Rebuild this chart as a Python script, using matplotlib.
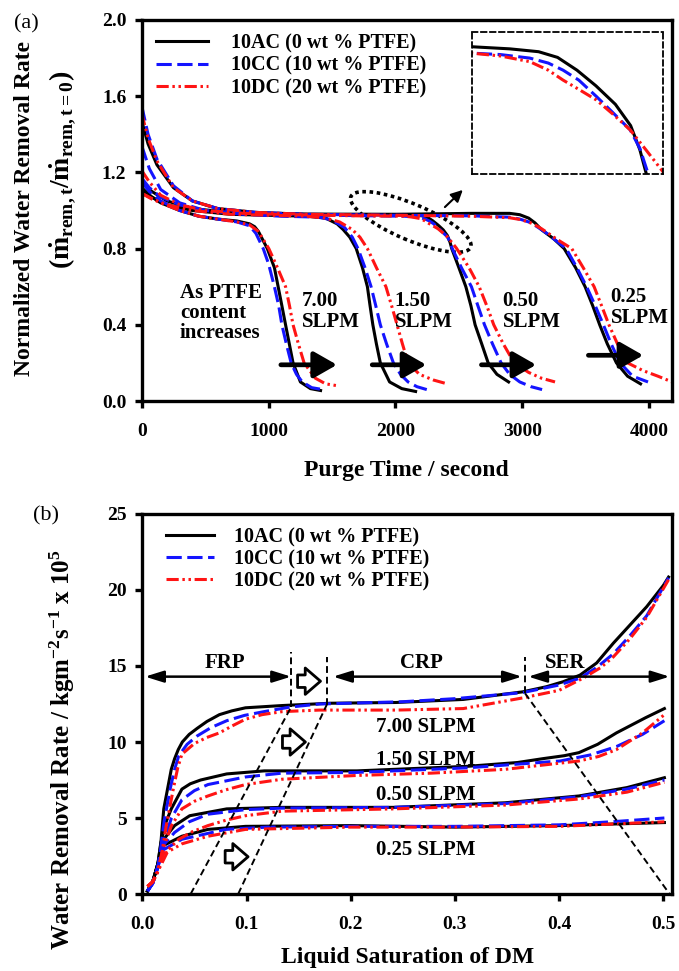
import matplotlib
matplotlib.use('Agg')
import matplotlib.pyplot as plt
from matplotlib.patches import Ellipse
from matplotlib.transforms import ScaledTranslation

# ---------------- data: panel (a)  purge time [s] vs normalized rate ----------------
materials = ['10AC (0 wt % PTFE)', '10CC (10 wt % PTFE)', '10DC (20 wt % PTFE)']
flow_labels = ['7.00', '1.50', '0.50', '0.25']

a700_AC_t = [0, 60, 150, 300, 450, 600, 750, 850, 890, 920, 990, 1046, 1105, 1134, 1193, 1251, 1330, 1410]
a700_AC_v = [1.11, 1.08, 1.04, 1.0, 0.97, 0.955, 0.945, 0.93, 0.915, 0.89, 0.8, 0.7, 0.5, 0.4, 0.2, 0.1, 0.065, 0.055]
a700_CC_t = [0, 60, 150, 300, 450, 600, 750, 850, 900, 958, 1000, 1046, 1080, 1105, 1140, 1178, 1220, 1266, 1340, 1427]
a700_CC_v = [1.15, 1.1, 1.05, 1.0, 0.97, 0.955, 0.94, 0.92, 0.88, 0.8, 0.72, 0.6, 0.5, 0.4, 0.3, 0.2, 0.14, 0.1, 0.07, 0.06]
a700_DC_t = [0, 60, 150, 300, 450, 600, 750, 850, 920, 1002, 1070, 1134, 1165, 1193, 1235, 1280, 1368, 1450, 1544]
a700_DC_v = [1.09, 1.07, 1.04, 1.0, 0.97, 0.955, 0.94, 0.925, 0.89, 0.8, 0.7, 0.6, 0.5, 0.4, 0.3, 0.2, 0.12, 0.09, 0.08]

a150_AC_t = [0, 80, 200, 400, 700, 1000, 1300, 1450, 1540, 1588, 1640, 1691, 1740, 1779, 1800, 1822, 1850, 1881, 1954, 2050, 2159]
a150_AC_v = [1.12, 1.07, 1.03, 1.0, 0.98, 0.975, 0.97, 0.96, 0.93, 0.9, 0.86, 0.8, 0.7, 0.6, 0.5, 0.4, 0.3, 0.2, 0.1, 0.065, 0.05]
a150_CC_t = [0, 60, 150, 300, 500, 800, 1100, 1400, 1500, 1600, 1660, 1705, 1760, 1808, 1845, 1881, 1930, 1984, 2040, 2100, 2170, 2247]
a150_CC_v = [1.34, 1.22, 1.11, 1.04, 1.0, 0.98, 0.97, 0.965, 0.95, 0.91, 0.86, 0.8, 0.7, 0.6, 0.5, 0.4, 0.3, 0.2, 0.14, 0.1, 0.075, 0.06]
a150_DC_t = [0, 80, 200, 400, 700, 1000, 1300, 1450, 1560, 1660, 1720, 1779, 1850, 1925, 1970, 2013, 2055, 2100, 2189, 2300, 2408]
a150_DC_v = [1.09, 1.06, 1.03, 1.0, 0.98, 0.975, 0.97, 0.96, 0.94, 0.9, 0.86, 0.8, 0.7, 0.6, 0.5, 0.4, 0.3, 0.2, 0.14, 0.11, 0.09]

a050_AC_t = [0, 80, 200, 400, 700, 1000, 1500, 2066, 2149, 2211, 2252, 2294, 2335, 2377, 2410, 2430, 2444, 2500, 2555, 2595, 2628, 2680, 2731, 2800, 2892]
a050_AC_v = [1.15, 1.1, 1.05, 1.01, 0.99, 0.982, 0.98, 0.979, 0.976, 0.972, 0.964, 0.946, 0.924, 0.898, 0.868, 0.834, 0.8, 0.7, 0.6, 0.5, 0.4, 0.3, 0.2, 0.14, 0.1]
a050_CC_t = [0, 60, 150, 300, 500, 800, 1200, 1700, 2066, 2128, 2192, 2232, 2264, 2298, 2336, 2372, 2409, 2430, 2448, 2520, 2599, 2650, 2702, 2765, 2833, 2900, 2980, 3070, 3156]
a050_CC_v = [1.17, 1.12, 1.07, 1.03, 1.0, 0.985, 0.978, 0.973, 0.970, 0.968, 0.963, 0.956, 0.946, 0.932, 0.909, 0.886, 0.862, 0.836, 0.8, 0.7, 0.6, 0.5, 0.4, 0.3, 0.2, 0.14, 0.1, 0.075, 0.06]
a050_DC_t = [0, 60, 150, 300, 500, 800, 1200, 1700, 2066, 2128, 2192, 2232, 2264, 2298, 2336, 2372, 2409, 2443, 2480, 2580, 2660, 2720, 2775, 2850, 2936, 3050, 3150, 3258]
a050_DC_v = [1.21, 1.15, 1.08, 1.03, 1.0, 0.985, 0.978, 0.972, 0.970, 0.966, 0.958, 0.946, 0.932, 0.919, 0.904, 0.884, 0.862, 0.834, 0.803, 0.7, 0.6, 0.5, 0.4, 0.3, 0.2, 0.15, 0.12, 0.1]

a025_AC_t = [0, 50, 120, 250, 400, 600, 900, 1300, 2000, 2600, 2900, 2980, 3050, 3100, 3150, 3200, 3250, 3330, 3420, 3495, 3555, 3610, 3670, 3742, 3830, 3932]
a025_AC_v = [1.47, 1.35, 1.24, 1.12, 1.05, 1.01, 0.99, 0.98, 0.98, 0.985, 0.985, 0.978, 0.96, 0.935, 0.9, 0.875, 0.85, 0.8, 0.7, 0.6, 0.5, 0.4, 0.3, 0.2, 0.13, 0.09]
a025_CC_t = [0, 50, 120, 250, 400, 600, 900, 1300, 2000, 2600, 2900, 2980, 3050, 3100, 3150, 3200, 3250, 3346, 3430, 3507, 3575, 3639, 3700, 3771, 3870, 3991]
a025_CC_v = [1.55, 1.4, 1.27, 1.13, 1.05, 1.01, 0.99, 0.98, 0.975, 0.972, 0.965, 0.955, 0.94, 0.922, 0.9, 0.877, 0.85, 0.8, 0.7, 0.6, 0.5, 0.4, 0.3, 0.2, 0.13, 0.1]
a025_DC_t = [0, 50, 120, 250, 400, 600, 900, 1300, 2000, 2600, 2900, 2980, 3050, 3100, 3150, 3210, 3270, 3390, 3480, 3566, 3625, 3683, 3750, 3830, 3950, 4070, 4181]
a025_DC_v = [1.51, 1.38, 1.26, 1.12, 1.05, 1.01, 0.99, 0.98, 0.975, 0.97, 0.962, 0.953, 0.94, 0.924, 0.905, 0.878, 0.85, 0.8, 0.7, 0.6, 0.5, 0.4, 0.3, 0.2, 0.16, 0.13, 0.1]

# ---------------- data: panel (b)  liquid saturation vs water removal rate ----------------
b700_AC_s = [0.005, 0.01, 0.015, 0.018, 0.0206, 0.0278, 0.031, 0.0345, 0.0384, 0.045, 0.0527, 0.062, 0.074, 0.086, 0.099, 0.1345, 0.18, 0.2436, 0.308, 0.365, 0.388, 0.404, 0.42, 0.436, 0.452, 0.468, 0.484, 0.50, 0.505]
b700_AC_w = [0.2, 0.8, 2.0, 3.5, 5.6, 8.2, 8.9, 9.5, 10.0, 10.5, 10.9, 11.35, 11.8, 12.05, 12.25, 12.4, 12.55, 12.6, 12.8, 13.3, 13.64, 13.97, 14.4, 15.2, 16.5, 17.7, 18.9, 20.3, 20.85]
b700_CC_s = [0.005, 0.01, 0.015, 0.018, 0.021, 0.027, 0.031, 0.035, 0.043, 0.0527, 0.066, 0.081, 0.098, 0.117, 0.142, 0.17, 0.25, 0.3, 0.365, 0.4, 0.42, 0.436, 0.452, 0.468, 0.484, 0.505]
b700_CC_w = [0.2, 0.7, 1.8, 3.2, 4.8, 7.0, 8.2, 9.1, 9.85, 10.4, 10.95, 11.4, 11.75, 12.0, 12.3, 12.5, 12.65, 12.85, 13.25, 13.75, 14.2, 14.9, 15.8, 17.0, 18.3, 20.8]
b700_DC_s = [0.005, 0.01, 0.015, 0.019, 0.023, 0.03, 0.034, 0.038, 0.05, 0.062, 0.074, 0.086, 0.099, 0.115, 0.1345, 0.17, 0.2436, 0.308, 0.365, 0.4, 0.423, 0.44, 0.452, 0.468, 0.484, 0.506]
b700_DC_w = [0.5, 0.8, 1.5, 2.8, 4.5, 7.0, 8.3, 9.2, 9.9, 10.3, 10.6, 11.05, 11.5, 11.8, 12.0, 12.1, 12.1, 12.2, 12.9, 13.4, 14.2, 14.9, 15.6, 16.8, 18.2, 20.8]

b150_AC_s = [0.005, 0.01, 0.015, 0.018, 0.022, 0.0278, 0.038, 0.046, 0.056, 0.081, 0.117, 0.206, 0.312, 0.36, 0.384, 0.405, 0.419, 0.437, 0.455, 0.483, 0.501]
b150_AC_w = [0.2, 0.8, 2.0, 3.4, 4.6, 5.6, 6.9, 7.25, 7.5, 7.9, 8.1, 8.1, 8.4, 8.65, 8.9, 9.1, 9.3, 9.85, 10.6, 11.6, 12.2]
b150_CC_s = [0.005, 0.01, 0.015, 0.02, 0.028, 0.038, 0.05, 0.063, 0.099, 0.134, 0.206, 0.312, 0.401, 0.43, 0.455, 0.48, 0.501]
b150_CC_w = [0.2, 0.7, 1.8, 3.4, 5.0, 6.2, 6.8, 7.2, 7.7, 7.95, 8.0, 8.3, 8.75, 9.15, 9.7, 10.5, 11.4]
b150_DC_s = [0.005, 0.01, 0.015, 0.02, 0.028, 0.038, 0.05, 0.063, 0.08, 0.099, 0.134, 0.206, 0.277, 0.348, 0.419, 0.438, 0.455, 0.48, 0.501]
b150_DC_w = [0.5, 0.8, 1.5, 3.0, 4.5, 5.6, 6.1, 6.45, 6.85, 7.2, 7.55, 7.8, 7.95, 8.2, 8.75, 9.05, 9.5, 10.6, 11.8]

b050_AC_s = [0.005, 0.01, 0.015, 0.0206, 0.031, 0.0455, 0.081, 0.134, 0.241, 0.348, 0.419, 0.465, 0.501]
b050_AC_w = [0.2, 0.8, 2.0, 3.6, 4.5, 5.15, 5.6, 5.7, 5.7, 6.0, 6.45, 7.0, 7.65]
b050_CC_s = [0.005, 0.01, 0.015, 0.02, 0.031, 0.045, 0.063, 0.099, 0.134, 0.241, 0.348, 0.419, 0.465, 0.501]
b050_CC_w = [0.2, 0.7, 1.8, 3.2, 4.05, 4.75, 5.25, 5.55, 5.65, 5.7, 5.95, 6.4, 6.9, 7.5]
b050_DC_s = [0.005, 0.01, 0.015, 0.02, 0.035, 0.048, 0.063, 0.08, 0.099, 0.134, 0.241, 0.348, 0.419, 0.465, 0.501]
b050_DC_w = [0.5, 0.8, 1.5, 2.6, 3.6, 4.1, 4.5, 4.85, 5.15, 5.45, 5.6, 5.85, 6.25, 6.7, 7.35]

b025_AC_s = [0.005, 0.01, 0.015, 0.0206, 0.038, 0.063, 0.099, 0.2, 0.3, 0.4, 0.45, 0.501]
b025_AC_w = [0.2, 0.8, 2.0, 3.2, 3.8, 4.25, 4.45, 4.5, 4.4, 4.5, 4.6, 4.7]
b025_CC_s = [0.005, 0.01, 0.015, 0.02, 0.038, 0.08, 0.12, 0.2, 0.3, 0.4, 0.45, 0.501]
b025_CC_w = [0.2, 0.7, 1.8, 2.9, 3.6, 4.25, 4.4, 4.45, 4.45, 4.55, 4.75, 5.0]
b025_DC_s = [0.005, 0.01, 0.015, 0.024, 0.038, 0.063, 0.099, 0.2, 0.3, 0.4, 0.45, 0.501]
b025_DC_w = [0.5, 0.8, 1.5, 2.75, 3.3, 3.8, 4.25, 4.4, 4.4, 4.45, 4.6, 4.75]

# region markers in panel (b)
frp_end = 0.1428
crp_start = 0.177
crp_end = 0.3673

# ---------------- styling ----------------
plt.rcParams['font.family'] = ['Liberation Serif', 'DejaVu Serif']
plt.rcParams['font.weight'] = 'bold'
plt.rcParams['axes.labelweight'] = 'bold'
plt.rcParams['mathtext.fontset'] = 'custom'
plt.rcParams['mathtext.rm'] = 'Liberation Serif:bold'
plt.rcParams['mathtext.it'] = 'Liberation Serif:bold'
plt.rcParams['mathtext.bf'] = 'Liberation Serif:bold'

LW = 2.2
styles = [dict(color='black', lw=LW, ls='-'),
          dict(color='#1414ff', lw=LW, dashes=(5, 1.8)),
          dict(color='#ff1414', lw=LW, dashes=(4, 1.2, 0.8, 1.2, 0.8, 1.2))]

fig = plt.figure(figsize=(6.79, 9.71), dpi=100)
W, H = 679.0, 971.0
axA = fig.add_axes([141.7 / W, 1 - 401 / H, (672 - 141.7) / W, 381 / H])
axB = fig.add_axes([142.3 / W, 1 - 894 / H, (672 - 142.3) / W, 380 / H])

for ax in (axA, axB):
    for sp in ax.spines.values():
        sp.set_linewidth(2.4)
    ax.tick_params(direction='out', length=5, width=2.4, labelsize=14)
    ax.tick_params(axis='x', pad=11)
    ax.tick_params(axis='y', pad=6)

# ---------------- panel (a) ----------------
a_curves = [
    [(a700_AC_t, a700_AC_v), (a700_CC_t, a700_CC_v), (a700_DC_t, a700_DC_v)],
    [(a150_AC_t, a150_AC_v), (a150_CC_t, a150_CC_v), (a150_DC_t, a150_DC_v)],
    [(a050_AC_t, a050_AC_v), (a050_CC_t, a050_CC_v), (a050_DC_t, a050_DC_v)],
    [(a025_AC_t, a025_AC_v), (a025_CC_t, a025_CC_v), (a025_DC_t, a025_DC_v)],
]
for k in range(3):
    for fi, grp in enumerate(a_curves):
        t, v = grp[k]
        axA.plot(t, v, label=materials[k] if fi == 0 else None, **styles[k])

axA.set_xlim(0, 4180)
axA.set_ylim(0, 2.0)
axA.set_xticks([0, 1000, 2000, 3000, 4000])
axA.set_yticks([0.0, 0.4, 0.8, 1.2, 1.6, 2.0])
axA.set_yticklabels(['0.0', '0.4', '0.8', '1.2', '1.6', '2.0'])
axA.set_xlabel('Purge Time / second', fontsize=17, labelpad=14)

legA = axA.legend(loc='upper left', bbox_to_anchor=(0.027, 0.965), frameon=False, fontsize=14.5,
                  handlelength=2.6, handletextpad=1.1, labelspacing=0.12, borderpad=0, borderaxespad=0)

# flow-rate labels
axA.text(1262, 0.47, '7.00\nSLPM', fontsize=15, ha='left', va='center', linespacing=1.05)
axA.text(1994, 0.47, '1.50\nSLPM', fontsize=15, ha='left', va='center', linespacing=1.05)
axA.text(2845, 0.47, '0.50\nSLPM', fontsize=15, ha='left', va='center', linespacing=1.05)
axA.text(3695, 0.49, '0.25\nSLPM', fontsize=15, ha='left', va='center', linespacing=1.05)
axA.text(300, 0.46, 'As PTFE\ncontent\nincreases', fontsize=15, ha='left', va='center', linespacing=1.0)

for (x0, x1, yy) in [(1097, 1539, 0.19), (1817, 2243, 0.19), (2678, 3109, 0.19), (3521, 3953, 0.24)]:
    axA.annotate('', xy=(x1, yy), xytext=(x0, yy),
                 arrowprops=dict(arrowstyle='-|>,head_length=0.7,head_width=0.4', lw=3.4, color='black',
                                 mutation_scale=20, shrinkA=0, shrinkB=0))

# dotted ellipse highlighting region
ell_trans = fig.dpi_scale_trans + ScaledTranslation(2121, 0.94, axA.transData)
axA.add_patch(Ellipse((0, 0), width=1.30, height=0.36, angle=-23, transform=ell_trans,
                      fill=False, ec='black', lw=2.6, ls=(0, (1, 1))))
axA.annotate('', xy=(2531, 1.108), xytext=(2390, 1.018),
             arrowprops=dict(arrowstyle='-|>,head_length=0.5,head_width=0.25', lw=1.5, color='black',
                             mutation_scale=14, shrinkA=0, shrinkB=0))

# inset (zoom of the 0.50 SLPM knee)
ins = axA.inset_axes([0.622, 0.596, 0.361, 0.373])
for k in range(3):
    t, v = a_curves[2][k]
    ins.plot(t, v, **styles[k])
ins.set_xlim(2066, 2480)
ins.set_ylim(0.80, 1.0)
ins.set_xticks([])
ins.set_yticks([])
for sp in ins.spines.values():
    sp.set_linewidth(1.3)
    sp.set_linestyle((0, (3, 2)))

# ---------------- panel (b) ----------------
b_curves = [
    [(b700_AC_s, b700_AC_w), (b700_CC_s, b700_CC_w), (b700_DC_s, b700_DC_w)],
    [(b150_AC_s, b150_AC_w), (b150_CC_s, b150_CC_w), (b150_DC_s, b150_DC_w)],
    [(b050_AC_s, b050_AC_w), (b050_CC_s, b050_CC_w), (b050_DC_s, b050_DC_w)],
    [(b025_AC_s, b025_AC_w), (b025_CC_s, b025_CC_w), (b025_DC_s, b025_DC_w)],
]
for k in range(3):
    for fi, grp in enumerate(b_curves):
        s, w = grp[k]
        axB.plot(s, w, label=materials[k] if fi == 0 else None, **styles[k])

axB.set_xlim(0, 0.5083)
axB.set_ylim(0, 25)
axB.set_xticks([0.0, 0.1, 0.2, 0.3, 0.4, 0.5])
axB.set_xticklabels(['0.0', '0.1', '0.2', '0.3', '0.4', '0.5'])
axB.set_yticks([0, 5, 10, 15, 20, 25])
axB.set_xlabel('Liquid Saturation of DM', fontsize=17, labelpad=10)

legB = axB.legend(loc='upper left', bbox_to_anchor=(0.044, 0.965), frameon=False, fontsize=14.5,
                  handlelength=2.4, handletextpad=1.0, labelspacing=0.1, borderpad=0, borderaxespad=0)

for (x0, x1) in [(0.0026, frp_end), (crp_start + 0.006, crp_end - 0.003), (crp_end + 0.003, 0.506)]:
    axB.annotate('', xy=(x1, 14.3), xytext=(x0, 14.3),
                 arrowprops=dict(arrowstyle='<|-|>,head_length=0.8,head_width=0.25', lw=1.8, color='black',
                                 mutation_scale=14, shrinkA=0, shrinkB=0))
axB.text(0.0795, 15.2, 'FRP', fontsize=15, ha='center', va='center')
axB.text(0.268, 15.2, 'CRP', fontsize=15, ha='center', va='center')
axB.text(0.4057, 15.2, 'SER', fontsize=15, ha='center', va='center')

dash_kw = dict(color='black', lw=1.4, ls=(0, (3.5, 2)))
axB.plot([frp_end, frp_end], [12.3, 15.9], **dash_kw)
axB.plot([crp_start, crp_start], [12.45, 15.6], **dash_kw)
axB.plot([crp_end, crp_end], [13.2, 15.6], **dash_kw)
axB.plot([0.0464, frp_end], [0, 12.3], **dash_kw)
axB.plot([0.092, crp_start], [0, 12.45], **dash_kw)
axB.plot([crp_end, 0.506], [13.2, 0], **dash_kw)

for (xc, yc) in [(0.160, 14.0), (0.1455, 10.0), (0.0905, 2.45)]:
    axB.annotate('', xy=(xc + 0.011, yc), xytext=(xc - 0.011, yc),
                 arrowprops=dict(arrowstyle='simple,head_length=0.55,head_width=0.95,tail_width=0.45',
                                 fc='white', ec='black', lw=2.0, mutation_scale=20, shrinkA=0, shrinkB=0))

axB.text(0.2247, 11.0, '7.00 SLPM', fontsize=15, ha='left', va='center')
axB.text(0.2247, 8.8, '1.50 SLPM', fontsize=15, ha='left', va='center')
axB.text(0.2247, 6.5, '0.50 SLPM', fontsize=15, ha='left', va='center')
axB.text(0.2247, 2.9, '0.25 SLPM', fontsize=15, ha='left', va='center')

# ---------------- labels outside axes ----------------
fig.text(26 / W, 1 - 24 / H, '(a)', fontsize=16, fontweight='normal', ha='center', va='center')
fig.text(46 / W, 1 - 516 / H, '(b)', fontsize=16, fontweight='normal', ha='center', va='center')
fig.text(25 / W, 1 - 208 / H, 'Normalized Water Removal Rate', rotation=90, fontsize=17,
         ha='center', va='center')
fig.text(63 / W, 1 - 170 / H, r'$(\dot{m}_{rem,t}/\dot{m}_{rem,t=0})$', rotation=90, fontsize=20,
         ha='center', va='center')
fig.text(62 / W, 1 - 750 / H, r'Water Removal Rate / kgm$^{-2}$s$^{-1}$ x 10$^{5}$', rotation=90,
         fontsize=18, ha='center', va='center')

fig.savefig('out.png', dpi=100)
